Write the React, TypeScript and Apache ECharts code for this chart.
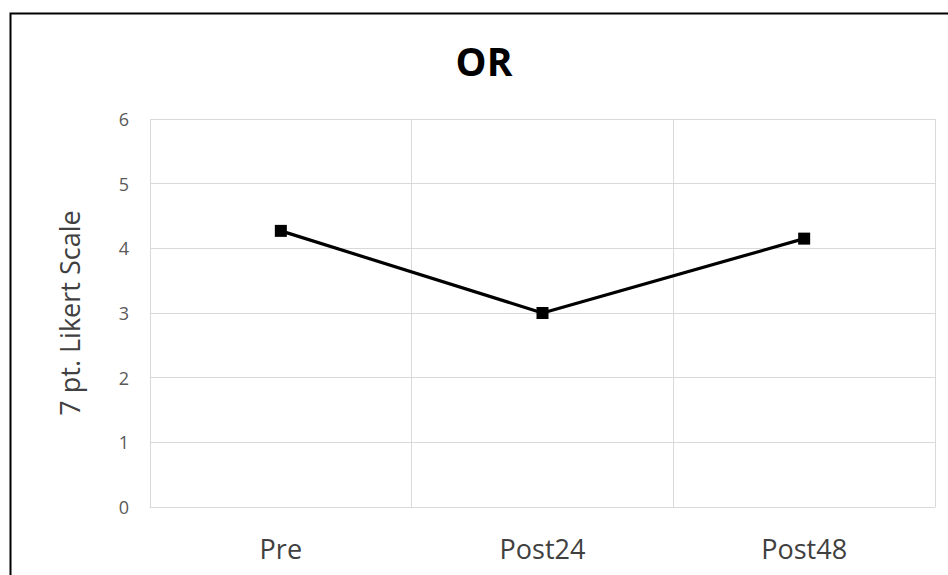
import React, { useEffect, useRef } from "react";
import * as echarts from "echarts";

// Mean ratings on a 7-point Likert scale for the OR group
const categories = ["Pre", "Post24", "Post48"];
const orValues = [4.27, 3.0, 4.15];
const yTicks = { min: 0, max: 6, interval: 1 };

const FONT = "'Open Sans', 'Noto Sans', sans-serif";
const GRID_COLOR = "#d9d9d9";

export default function App() {
  const ref = useRef<HTMLDivElement>(null);

  useEffect(() => {
    if (!ref.current) return;
    const chart = echarts.init(ref.current, undefined, { renderer: "svg" });
    chart.setOption({
      animation: false,
      backgroundColor: "#ffffff",
      textStyle: { fontFamily: FONT },
      graphic: [
        {
          type: "rect",
          left: 8,
          top: 11,
          shape: { x: 0, y: 0, width: 1200, height: 1000 },
          style: { fill: "none", stroke: "#000000", lineWidth: 2 },
          silent: true,
          z: 0,
        },
        {
          type: "text",
          x: 484,
          y: 60,
          style: {
            text: "OR",
            fill: "#000000",
            font: `bold 39px ${FONT}`,
            textAlign: "center",
            textVerticalAlign: "middle",
          },
        },
      ],
      grid: { left: 150, right: 13, top: 119, bottom: 68, containLabel: false },
      xAxis: {
        type: "category",
        data: categories,
        boundaryGap: true,
        axisLine: { show: true, lineStyle: { color: GRID_COLOR, width: 1 } },
        axisTick: { show: false },
        splitLine: { show: true, lineStyle: { color: GRID_COLOR, width: 1 } },
        axisLabel: { color: "#404040", fontSize: 27, fontFamily: FONT, margin: 28 },
      },
      yAxis: {
        type: "value",
        min: yTicks.min,
        max: yTicks.max,
        interval: yTicks.interval,
        name: "7 pt. Likert Scale",
        nameLocation: "middle",
        nameGap: 67,
        nameTextStyle: { color: "#404040", fontSize: 27, fontFamily: FONT },
        axisLine: { show: false },
        axisTick: { show: false },
        splitLine: { show: true, lineStyle: { color: GRID_COLOR, width: 1 } },
        axisLabel: { color: "#595959", fontSize: 18, fontFamily: FONT, margin: 21 },
      },
      series: [
        {
          type: "line",
          name: "OR",
          data: orValues,
          symbol: "rect",
          symbolSize: 12,
          lineStyle: { color: "#000000", width: 3.2 },
          itemStyle: { color: "#000000" },
          z: 5,
        },
      ],
    });
    return () => chart.dispose();
  }, []);

  return (
    <div
      ref={ref}
      style={{ position: "fixed", left: 0, top: 0, width: 948, height: 575, background: "#fff" }}
    />
  );
}
